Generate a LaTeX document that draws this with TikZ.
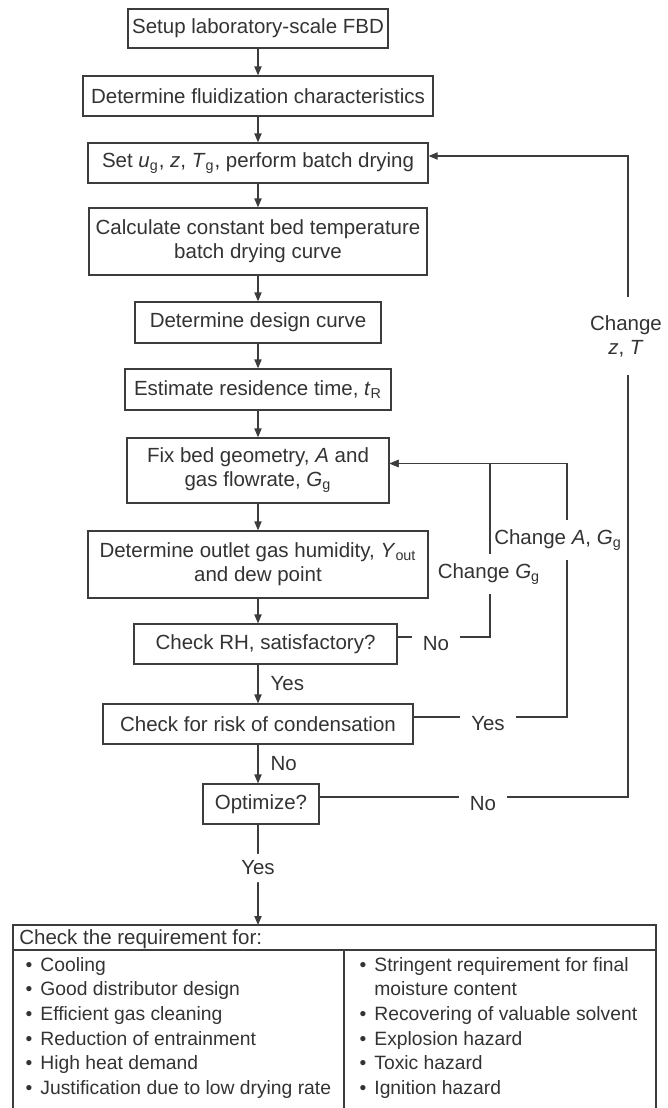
\documentclass[tikz,border=0pt]{standalone}
\usepackage{fontspec}
\setmainfont{Liberation Sans}
\usepackage{xcolor}
\usepackage{tikz}
\usetikzlibrary{arrows.meta}
\definecolor{inkgray}{HTML}{3C3C3C}
\definecolor{txtgray}{HTML}{333333}
\newcommand{\flowfont}{\fontsize{10.25}{12}\selectfont}
\newcommand{\listfont}{\fontsize{9.65}{12}\selectfont}

\begin{document}
\begin{tikzpicture}[x=0.5pt, y=-0.5pt, line cap=round,
    stage/.style={draw=inkgray, fill=white, line width=0.6pt, align=center,
                  inner sep=0pt, text=txtgray, font=\flowfont},
    link/.style={draw=inkgray, line width=0.6pt},
    flow/.style={link, -{Triangle[length=4.5pt, width=3.6pt]}},
    ans/.style={text=txtgray, font=\flowfont, inner sep=0pt, anchor=west, xshift=6pt},
    hgap/.style={fill=white, text=txtgray, font=\flowfont, inner xsep=5.5pt, inner ysep=2pt},
    vgap/.style={fill=white, text=txtgray, font=\flowfont, align=center,
                 inner xsep=2pt, inner ysep=5pt},
    item/.style={text=txtgray, font=\listfont, inner sep=0pt, anchor=base west}]

  \useasboundingbox (0,0) rectangle (668,1108);

  % ---- main column of steps --------------------------------------------------
  \node[stage, minimum width=130pt, minimum height=19.5pt] (b1) at (258,28.5)
    {Setup laboratory-scale FBD};
  \node[stage, minimum width=175pt, minimum height=20pt] (b2) at (258,96)
    {Determine fluidization characteristics};
  \node[stage, minimum width=170pt, minimum height=20pt] (b3) at (258,163)
    {Set \textit{u}\textsubscript{g}, \textit{z}, \textit{T}\textsubscript{g}, perform batch drying};
  \node[stage, minimum width=169pt, minimum height=33.5pt] (b4) at (258,241.5)
    {Calculate constant bed temperature\\batch drying curve};
  \node[stage, minimum width=123pt, minimum height=20.5pt] (b5) at (258,322.5)
    {Determine design curve};
  \node[stage, minimum width=133pt, minimum height=20.5pt] (b6) at (258,389.5)
    {Estimate residence time, \textit{t}\textsubscript{R}};
  \node[stage, minimum width=131pt, minimum height=32.5pt] (b7) at (258,470.5)
    {Fix bed geometry, \textit{A} and\\gas flowrate, \textit{G}\textsubscript{g}};
  \node[stage, minimum width=170pt, minimum height=33.5pt] (b8) at (258,564.5)
    {Determine outlet gas humidity, \textit{Y}\textsubscript{out}\\and dew point};
  \node[stage, minimum width=131.5pt, minimum height=20pt] (b9) at (265.5,644)
    {Check RH, satisfactory?};
  \node[stage, minimum width=155pt, minimum height=20pt] (b10) at (258,724)
    {Check for risk of condensation};
  \node[stage, minimum width=58pt, minimum height=20pt] (b11) at (261,804)
    {Optimize?};

  \foreach \a/\b in {b1/b2, b2/b3, b3/b4, b4/b5, b5/b6, b6/b7, b7/b8}{
    \draw[flow] (\a) -- (\b);}
  \draw[flow] (b8) -- (b8 |- b9.north);
  \draw[flow] (b8 |- b9.south) -- node[ans] (yes1) {Yes} (b10);
  \draw[flow] (b10) -- node[ans] (no1) {No} (b10 |- b11.north);

  % ---- feedback loops on the right -------------------------------------------
  \coordinate (gbend) at (490,550);
  \coordinate (abend) at (567,600);
  \coordinate (zbend) at (628,400);
  \draw[flow] ([yshift=3.5pt]b9.east) -| (gbend) |- ([yshift=3.5pt]b7.east);
  \draw[flow] ([yshift=3.5pt]b10.east) -| (abend) |- ([yshift=3.5pt]b7.east);
  \draw[flow] ([yshift=3.5pt]b11.east) -| (zbend) |- ([yshift=3.5pt]b3.east);

  \node[hgap] (no2)  at (436,644) {No};
  \node[hgap] (yes2) at (488,724) {Yes};
  \node[hgap] (no3)  at (483,804) {No};
  \node[vgap] (chg)  at (489,574) {Change \textit{G}\textsubscript{g}};
  \node[vgap, inner xsep=0pt] (chag) at (558,540)
    {Change \textit{A}, \textit{G}\textsubscript{g}};
  \node[vgap, inner xsep=5pt, inner ysep=9pt] (chzt) at (626,336)
    {Change\\\textit{z}, \textit{T}};

  % ---- last step and the requirement table -----------------------------------
  \node[text=txtgray, font=\flowfont, inner sep=3.5pt] (yes3) at (258,868) {Yes};
  \coordinate (reqtop) at (258,925);
  \draw[link] (b10 |- b11.south) -- (yes3);
  \draw[flow] (yes3) -- (reqtop);

  \draw[link] (13,1115) |- (656,925) -- (656,1115);
  \draw[link] (13,950) -- (656,950);
  \draw[link] (344,950) -- (344,1115);
  \node[item, font=\flowfont] (head) at (19,944) {Check the requirement for:};

  \foreach \txt [count=\i] in {Cooling, Good distributor design,
      Efficient gas cleaning, Reduction of entrainment, High heat demand,
      Justification due to low drying rate}{
    \node[item] (left\i) at (40,946.7+24.6*\i) {\llap{\textbullet\hspace{4pt}}\txt};}
  \foreach \r/\txt in {1/Stringent requirement for final,
      3/Recovering of valuable solvent, 4/Explosion hazard,
      5/Toxic hazard, 6/Ignition hazard}{
    \node[item] (right\r) at (374,946.7+24.6*\r) {\llap{\textbullet\hspace{4pt}}\txt};}
  \node[item] (right2) at (374,946.7+24.6*2) {moisture content};
\end{tikzpicture}
\end{document}
